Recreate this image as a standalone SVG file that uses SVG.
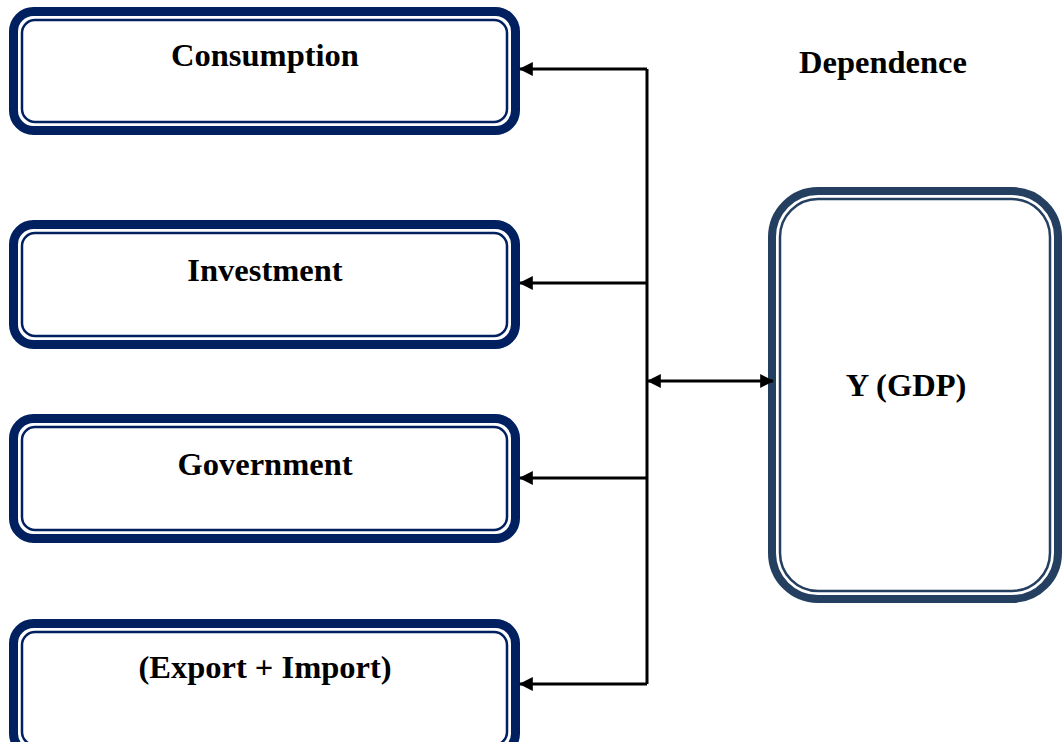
<svg xmlns="http://www.w3.org/2000/svg" width="1063" height="742" viewBox="0 0 1063 742">
<style>
.lbox-o{fill:#fff;stroke:#002060;stroke-width:9}
.lbox-i{fill:none;stroke:#002060;stroke-width:2.5}
.ybox-o{fill:#fff;stroke:#243F60;stroke-width:8}
.ybox-i{fill:none;stroke:#243F60;stroke-width:2.5}
.t{font-family:"Liberation Serif","Times New Roman",serif;font-weight:bold;font-size:32.5px;fill:#000;text-anchor:middle}
.c{fill:none;stroke:#000;stroke-width:3}
</style>
<defs>
<marker id="ah" viewBox="0 0 12 12" refX="11" refY="6" markerWidth="14" markerHeight="14" markerUnits="userSpaceOnUse" orient="auto-start-reverse">
<path d="M0,0 L12,6 L0,12 z" fill="#000"/>
</marker>
</defs>
<rect width="1063" height="742" fill="#fff"/>
<g id="consumption">
<rect class="lbox-o" x="13.5" y="11.5" width="502" height="119" rx="20"/>
<rect class="lbox-i" x="22" y="20" width="485" height="102" rx="13"/>
<text class="t" x="265" y="66">Consumption</text>
</g>
<g id="investment">
<rect class="lbox-o" x="13.5" y="224.5" width="502" height="120" rx="20"/>
<rect class="lbox-i" x="22" y="233" width="485" height="103" rx="13"/>
<text class="t" x="265" y="281">Investment</text>
</g>
<g id="government">
<rect class="lbox-o" x="13.5" y="418.5" width="502" height="120" rx="20"/>
<rect class="lbox-i" x="22" y="427" width="485" height="103" rx="13"/>
<text class="t" x="265" y="475">Government</text>
</g>
<g id="export-import">
<rect class="lbox-o" x="13.5" y="623.5" width="502" height="130" rx="20"/>
<rect class="lbox-i" x="22" y="632" width="485" height="113" rx="13"/>
<text class="t" x="265" y="678">(Export + Import)</text>
</g>
<g id="gdp">
<rect class="ybox-o" x="772" y="191" width="286" height="408" rx="46"/>
<rect class="ybox-i" x="780" y="199" width="270" height="392" rx="38"/>
<text class="t" x="906" y="396">Y (GDP)</text>
</g>
<g id="dependence-label">
<text class="t" x="883" y="73">Dependence</text>
</g>
<g id="connectors">
<path class="c" d="M647,69 L647,684"/>
<path class="c" d="M647,69 L520,69" marker-end="url(#ah)"/>
<path class="c" d="M647,283 L520,283" marker-end="url(#ah)"/>
<path class="c" d="M647,478 L520,478" marker-end="url(#ah)"/>
<path class="c" d="M647,684 L520,684" marker-end="url(#ah)"/>
<path class="c" d="M648,381 L773,381" marker-start="url(#ah)" marker-end="url(#ah)"/>
</g>
</svg>
